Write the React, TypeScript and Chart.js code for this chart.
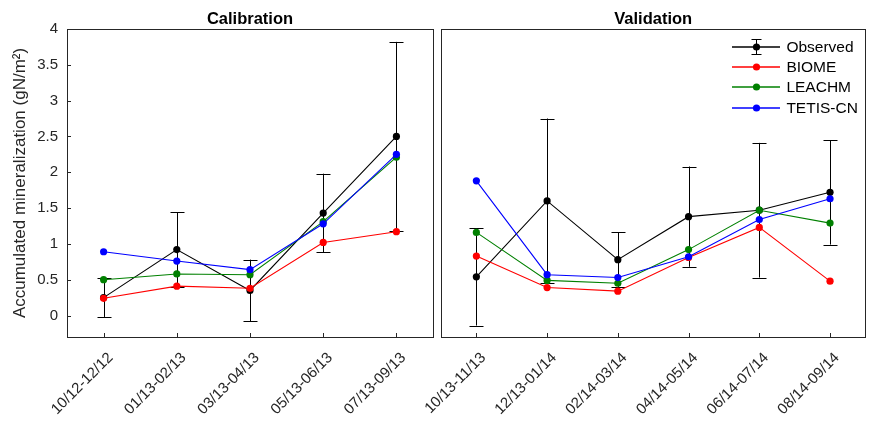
import { useEffect, useRef } from 'react';
import { Chart, registerables } from 'chart.js';

Chart.register(...registerables);

const FONT = '"Liberation Sans", Arial, Helvetica, sans-serif';
const AXIS_COLOR = '#262626';

// ---- data ----
const calLabels = ['10/12-12/12', '01/13-02/13', '03/13-04/13', '05/13-06/13', '07/13-09/13'];
const valLabels = ['10/13-11/13', '12/13-01/14', '02/14-03/14', '04/14-05/14', '06/14-07/14', '08/14-09/14'];

const calObserved = [0.25, 0.92, 0.35, 1.43, 2.5];
const calObservedErr = [0.27, 0.52, 0.43, 0.55, 1.32];
const calBiome = [0.24, 0.41, 0.38, 1.02, 1.17];
const calLeachm = [0.5, 0.58, 0.57, 1.31, 2.21];
const calTetis = [0.89, 0.76, 0.64, 1.28, 2.25];

const valObserved = [0.54, 1.6, 0.78, 1.38, 1.47, 1.72];
const valObservedErr = [0.68, 1.15, 0.38, 0.7, 0.94, 0.73];
const valBiome = [0.83, 0.39, 0.34, 0.81, 1.23, 0.48];
const valLeachm = [1.16, 0.49, 0.45, 0.92, 1.47, 1.29];
const valTetis = [1.88, 0.57, 0.53, 0.82, 1.34, 1.63];

const yTicks = [0, 0.5, 1, 1.5, 2, 2.5, 3, 3.5, 4];
const yMin = -0.3;
const yMax = 4;

const seriesNames = ['Observed', 'BIOME', 'LEACHM', 'TETIS-CN'];
const seriesColors = ['#000000', '#ff0000', '#008000', '#0000ff'];

const panelTitles = ['Calibration', 'Validation'];
const yTitle = 'Accumulated mineralization (gN/m\u00B2)';

function makeDatasets(series: number[][]) {
  return series.map((d, i) => ({
    label: seriesNames[i],
    data: d,
    borderColor: seriesColors[i],
    backgroundColor: seriesColors[i],
    borderWidth: 1.1,
    pointRadius: 3.6,
    pointHoverRadius: 3.6,
    pointBorderWidth: 0,
    tension: 0,
    order: 4 - i,
  }));
}

function panelPlugin(errs: number[], showYTicks: boolean, showLegend: boolean) {
  return {
    id: 'panelDecor',
    beforeDatasetsDraw(chart: any) {
      const { ctx } = chart;
      const xs = chart.scales.x;
      const ys = chart.scales.y;
      const obs = chart.data.datasets[0].data as number[];
      ctx.save();
      ctx.strokeStyle = '#000';
      ctx.lineWidth = 1;
      errs.forEach((e, i) => {
        const px = Math.round(xs.getPixelForValue(i)) + 0.5;
        const top = ys.getPixelForValue(obs[i] + e);
        const bot = ys.getPixelForValue(obs[i] - e);
        ctx.beginPath();
        ctx.moveTo(px, top);
        ctx.lineTo(px, bot);
        ctx.moveTo(px - 7, Math.round(top) + 0.5);
        ctx.lineTo(px + 7, Math.round(top) + 0.5);
        ctx.moveTo(px - 7, Math.round(bot) + 0.5);
        ctx.lineTo(px + 7, Math.round(bot) + 0.5);
        ctx.stroke();
      });
      ctx.restore();
    },
    afterDraw(chart: any) {
      const { ctx, chartArea } = chart;
      const { left, right, top, bottom } = chartArea;
      const xs = chart.scales.x;
      const ys = chart.scales.y;
      ctx.save();
      ctx.strokeStyle = AXIS_COLOR;
      ctx.lineWidth = 1;
      ctx.strokeRect(Math.round(left) + 0.5, Math.round(top) + 0.5, Math.round(right - left), Math.round(bottom - top));
      ctx.beginPath();
      const tl = 4;
      xs.ticks.forEach((_t: any, i: number) => {
        const px = Math.round(xs.getPixelForTick(i)) + 0.5;
        ctx.moveTo(px, bottom);
        ctx.lineTo(px, bottom - tl);
      });
      if (showYTicks) {
        ys.ticks.forEach((_t: any, i: number) => {
          const py = Math.round(ys.getPixelForTick(i)) + 0.5;
          ctx.moveTo(left, py);
          ctx.lineTo(left + tl, py);
        });
      }
      ctx.stroke();

      if (showLegend) {
        const lx0 = Math.round(right - 133);
        const lx1 = Math.round(right - 85);
        const mx = Math.round((lx0 + lx1) / 2) + 0.5;
        const tx = right - 79;
        const y0 = top + 17.7;
        const dy = 20.4;
        ctx.font = `15.5px ${FONT}`;
        ctx.textBaseline = 'middle';
        ctx.textAlign = 'left';
        chart.data.datasets.forEach((ds: any, i: number) => {
          const y = Math.round(y0 + i * dy);
          const col = seriesColors[i];
          ctx.lineWidth = 1.5;
          ctx.strokeStyle = col;
          ctx.beginPath();
          ctx.moveTo(lx0, y);
          ctx.lineTo(lx1, y);
          ctx.stroke();
          if (i === 0) {
            ctx.lineWidth = 1;
            ctx.beginPath();
            ctx.moveTo(mx, y - 8);
            ctx.lineTo(mx, y + 8);
            ctx.moveTo(mx - 5, y - 7.5);
            ctx.lineTo(mx + 5, y - 7.5);
            ctx.moveTo(mx - 5, y + 7.5);
            ctx.lineTo(mx + 5, y + 7.5);
            ctx.stroke();
          }
          ctx.fillStyle = col;
          ctx.beginPath();
          ctx.arc(mx, y, 3.6, 0, Math.PI * 2);
          ctx.fill();
          ctx.fillStyle = '#000';
          ctx.fillText(ds.label, tx, y + 1);
        });
      }
      ctx.restore();
    },
  };
}

function baseOptions(labels: string[], title: string, isLeft: boolean) {
  return {
    responsive: false,
    animation: false as const,
    events: [] as any[],
    layout: {
      padding: isLeft ? { left: 0, right: 436, top: 0, bottom: 0 } : { left: 441, right: 1, top: 0, bottom: 0 },
    },
    plugins: {
      legend: { display: false },
      tooltip: { enabled: false },
      title: {
        display: true,
        text: title,
        fullSize: false,
        color: '#000',
        font: { family: FONT, size: 16.5, weight: 'bold' as const, lineHeight: 1.15 },
        padding: { top: 10, bottom: 0 },
      },
    },
    scales: {
      x: {
        type: 'category' as const,
        labels,
        offset: true,
        grid: { display: false, drawTicks: false },
        border: { display: false },
        ticks: {
          autoSkip: false,
          minRotation: 45,
          maxRotation: 45,
          padding: 12,
          labelOffset: 7,
          color: AXIS_COLOR,
          font: { family: FONT, size: 15 },
        },
        afterFit: (s: any) => {
          s.height = 84;
          s.paddingLeft = 0;
          s.paddingRight = 0;
        },
      },
      y: {
        display: isLeft,
        min: yMin,
        max: yMax,
        grid: { display: false, drawTicks: false },
        border: { display: false },
        afterBuildTicks: (s: any) => {
          s.ticks = yTicks.map((v) => ({ value: v }));
        },
        ticks: {
          padding: 9,
          color: AXIS_COLOR,
          font: { family: FONT, size: 15 },
          callback: (v: any) => String(v),
        },
        title: {
          display: isLeft,
          text: yTitle,
          color: AXIS_COLOR,
          font: { family: FONT, size: 17, lineHeight: 1.2 },
          padding: { top: 10, bottom: 0 },
        },
        afterFit: (s: any) => {
          s.width = isLeft ? 67 : 0;
          s.paddingTop = 0;
          s.paddingBottom = 0;
        },
      },
    },
  };
}

export default function App() {
  const leftRef = useRef<HTMLCanvasElement | null>(null);
  const rightRef = useRef<HTMLCanvasElement | null>(null);

  useEffect(() => {
    document.body.style.margin = '0';
    document.body.style.background = '#ffffff';
    const c1 = new Chart(leftRef.current as HTMLCanvasElement, {
      type: 'line',
      data: {
        labels: calLabels,
        datasets: makeDatasets([calObserved, calBiome, calLeachm, calTetis]) as any,
      },
      options: baseOptions(calLabels, panelTitles[0], true) as any,
      plugins: [panelPlugin(calObservedErr, true, false)],
    });
    const c2 = new Chart(rightRef.current as HTMLCanvasElement, {
      type: 'line',
      data: {
        labels: valLabels,
        datasets: makeDatasets([valObserved, valBiome, valLeachm, valTetis]) as any,
      },
      options: baseOptions(valLabels, panelTitles[1], false) as any,
      plugins: [panelPlugin(valObservedErr, false, true)],
    });
    return () => {
      c1.destroy();
      c2.destroy();
    };
  }, []);

  return (
    <div style={{ position: 'relative', width: 869, height: 421, background: '#fff' }}>
      <canvas ref={leftRef} width={869} height={421} style={{ position: 'absolute', left: 0, top: 0 }} />
      <canvas ref={rightRef} width={869} height={421} style={{ position: 'absolute', left: 0, top: 0 }} />
    </div>
  );
}
